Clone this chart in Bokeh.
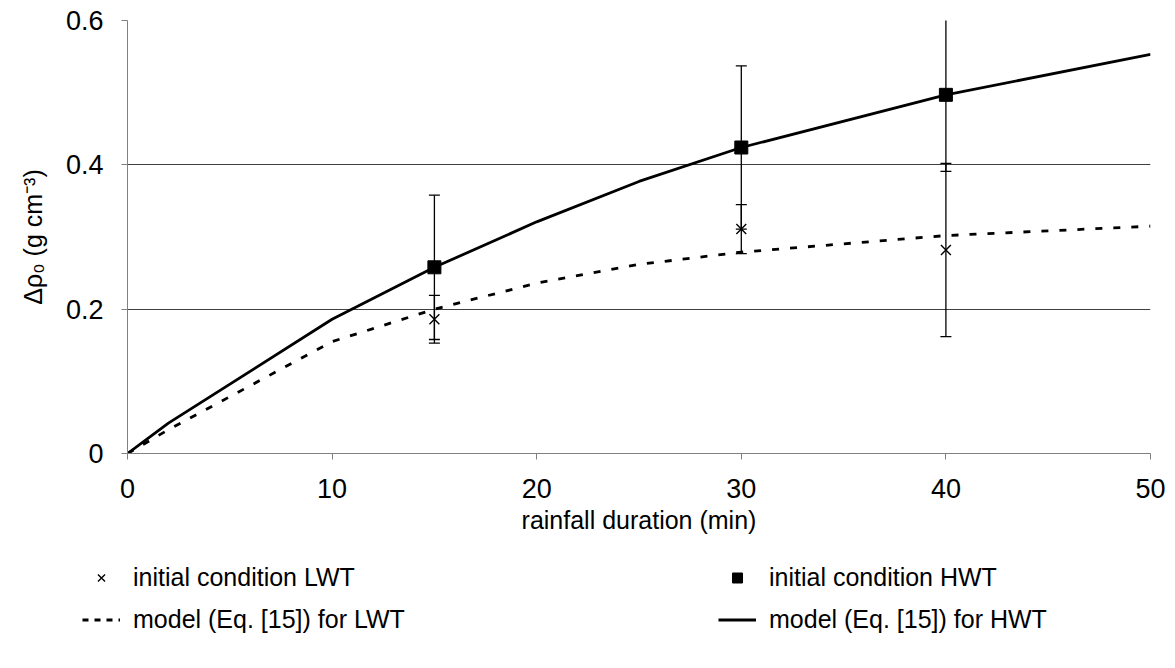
from bokeh.plotting import figure
from bokeh.layouts import column, row
from bokeh.models import (ColumnDataSource, Whisker, TeeHead, Legend, LegendItem,
                          FixedTicker, Range1d, CustomJSTickFormatter)
from bokeh.embed import file_html
from bokeh.resources import INLINE

# ---- data ----
model_t = [0, 2, 10, 15, 20, 25, 30, 40, 50]
model_hwt = [0, 0.042, 0.186, 0.258, 0.321, 0.377, 0.424, 0.497, 0.553]
model_lwt = [0, 0.033, 0.155, 0.200, 0.236, 0.262, 0.279, 0.302, 0.315]

obs_t = [15, 30, 40]
obs_hwt = [0.258, 0.424, 0.497]
obs_hwt_err = [0.100, 0.113, 0.106]
obs_lwt = [0.186, 0.311, 0.282]
obs_lwt_err = [0.033, 0.034, 0.120]

x_ticks = [0, 10, 20, 30, 40, 50]
y_ticks = [0, 0.2, 0.4, 0.6]

legend_labels = ["initial condition LWT", "model (Eq. [15]) for LWT",
                 "initial condition HWT", "model (Eq. [15]) for HWT"]

FONT = "Liberation Sans"

p = figure(width=1175, height=560, output_backend="svg", toolbar_location=None,
           x_range=Range1d(0, 50), y_range=Range1d(0, 0.6),
           min_border_left=127, min_border_right=25, min_border_top=20,
           min_border_bottom=107)
p.outline_line_color = None
p.background_fill_color = "white"
p.border_fill_color = "white"

# axes
p.xaxis.ticker = FixedTicker(ticks=x_ticks)
p.yaxis.ticker = FixedTicker(ticks=y_ticks)
p.yaxis.formatter = CustomJSTickFormatter(code="return tick == 0 ? '0' : tick.toFixed(1);")
for ax in (p.xaxis[0], p.yaxis[0]):
    ax.axis_line_color = "#808080"
    ax.major_tick_line_color = "#808080"
    ax.major_tick_out = 6
    ax.major_tick_in = 0
    ax.minor_tick_line_color = None
    ax.major_label_text_font = FONT
    ax.major_label_text_font_size = "27px"
    ax.major_label_text_color = "black"
    ax.axis_label_text_font = FONT
    ax.axis_label_text_font_size = "25px"
    ax.axis_label_text_font_style = "normal"
    ax.axis_label_text_color = "black"
p.xaxis.major_label_standoff = 19
p.yaxis.major_label_standoff = 18
p.xaxis.axis_label = "rainfall duration (min)"
p.xaxis.axis_label_standoff = 5
p.yaxis.axis_label = "Δρ₀ (g cm⁻³)"
p.yaxis.axis_label_standoff = 16

p.xgrid.grid_line_color = None
p.ygrid.grid_line_color = "#404040"
p.ygrid.grid_line_width = 1

HWT_LINE = dict(line_color="black", line_width=2.8)
LWT_LINE = dict(line_color="black", line_width=2.8, line_dash="7 11")
HWT_MARK = dict(marker="square", size=13, fill_color="black", line_color="black")
LWT_MARK = dict(marker="x", size=14, line_color="black", line_width=1.4)

# model curves
src_m = ColumnDataSource(dict(t=model_t, hwt=model_hwt, lwt=model_lwt))
p.line("t", "hwt", source=src_m, **HWT_LINE)
p.line("t", "lwt", source=src_m, **LWT_LINE)

# observations with error bars
src_o = ColumnDataSource(dict(
    t=obs_t,
    hwt=obs_hwt,
    hwt_lo=[v - e for v, e in zip(obs_hwt, obs_hwt_err)],
    hwt_hi=[v + e for v, e in zip(obs_hwt, obs_hwt_err)],
    lwt=obs_lwt,
    lwt_lo=[v - e for v, e in zip(obs_lwt, obs_lwt_err)],
    lwt_hi=[v + e for v, e in zip(obs_lwt, obs_lwt_err)],
))
for lo, hi in (("hwt_lo", "hwt_hi"), ("lwt_lo", "lwt_hi")):
    w = Whisker(source=src_o, base="t", lower=lo, upper=hi, line_color="black",
                line_width=1.3,
                upper_head=TeeHead(size=11, line_color="black", line_width=1.3),
                lower_head=TeeHead(size=11, line_color="black", line_width=1.3))
    p.add_layout(w)

p.scatter("t", "hwt", source=src_o, **HWT_MARK)
p.scatter("t", "lwt", source=src_o, **LWT_MARK)

# ---- legend strip below the chart ----
q = figure(width=1175, height=108, output_backend="svg", toolbar_location=None,
           x_range=Range1d(0, 1), y_range=Range1d(0, 1),
           min_border=0, x_axis_type=None, y_axis_type=None)
q.outline_line_color = None
q.xgrid.grid_line_color = None
q.ygrid.grid_line_color = None
nan = float("nan")
dummy = ColumnDataSource(dict(x=[nan], y=[nan]))
l_ol = q.scatter("x", "y", source=dummy, **LWT_MARK)
l_ml = q.line("x", "y", source=dummy, line_color="black", line_width=2.8,
              line_dash="6 6")
l_oh = q.scatter("x", "y", source=dummy, **HWT_MARK)
l_mh = q.line("x", "y", source=dummy, **HWT_LINE)

legend = Legend(items=[
    LegendItem(label=legend_labels[0], renderers=[l_ol]),
    LegendItem(label=legend_labels[1], renderers=[l_ml]),
    LegendItem(label=legend_labels[2], renderers=[l_oh]),
    LegendItem(label=legend_labels[3], renderers=[l_mh]),
], ncols=2, orientation="vertical", location=(82, 34),
    glyph_width=38, glyph_height=25, label_height=25, label_width=572,
    label_standoff=13, spacing=13, padding=0, margin=0,
    border_line_color=None, background_fill_alpha=0,
    label_text_font=FONT, label_text_font_size="25px", label_text_color="black")
q.add_layout(legend, "center")

layout = column(p, row(q), spacing=0)
open("out.html", "w").write(file_html(layout, INLINE))
